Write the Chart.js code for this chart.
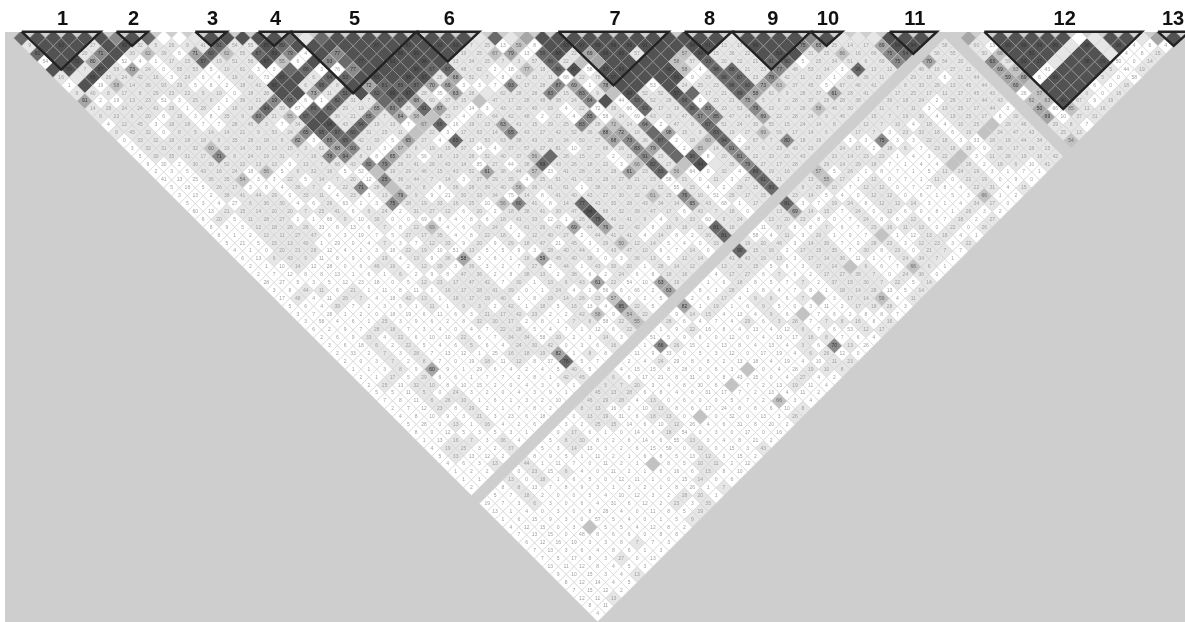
<!DOCTYPE html>
<html>
<head>
<meta charset="utf-8">
<title>LD plot</title>
<script src="https://cdn.jsdelivr.net/npm/chart.js@4/dist/chart.umd.min.js"></script>
<style>
  html, body { margin: 0; padding: 0; background: #fff; }
  canvas { display: block; }
</style>
</head>
<body>
<canvas id="ldChart" width="1185" height="622"></canvas>
<script>
// haplotype blocks: first and last cell of the top row
const blockLabels = ['1','2','3','4','5','6','7','8','9','10','11','12','13'];
const blockFirst  = [0, 6, 11, 15, 17, 25, 34, 42, 45, 50, 55, 61, 72];
const blockLast   = [5, 8, 13, 17, 25, 29, 41, 45, 50, 52, 58, 71, 74];

// one string per row of the triangle, row 0 on top.
// token = value + LD class (none white, l light, g/m/n/d/k grey to dark), x = no data
const cellRows = [
"93d k 95k 97k k k 75n 97k 60d 0 1 21l 93k 91k 91k 93k 93k 80d 29l 77d k k k k k k 66k 93k 93k 18l 93d 14l 66m k k 97k 87k 99k 93k 93k 99k k k 85k k 18l k k k k 71n 93k 28l 41l 57l 83k k 93k x x 82m 51l 97k 93k k 93k k 36 l 93k 93k 5l 60m k",
"9l k 93k k 27l k 95k 32l 5l 26l 9l 41l 91d 54l 55l 85k 89d k k k k k 87k k 82k k 93k 93k 7l 25l 13 59g 8 k 63k 97k 99k 99k 99k 91k k k 98k 91k 13l 17l 89k k k 75n 65m 25l 14l 17l 69m 94k 94k x 58l x 60l 13 99k 99k 99k 99k l 98k l 99k 4 6 4",
"81d k k 20l 71n k 30l 62g 39l 6 71m 60d 62g 55l 87d 89k 79n 4 k 77n k k k 88k 90k k k 19l 25l 67g 79m 13 59d 88k 22l 69m 99k 99k 57l k k 57g 99k 15l 36l 22l k 54k k 31l 25l 66g 16l 66l 75n 54d x 56l 55l x 50l 66g k 50k k l k k l 4 8 15l",
"54 k 31k 80m k 52 4 1 17l 15l 57d 19l 51l 56l 87k 55g 6 k 93n d 77k k 93k k 98k k 13l 34l 15l 7l 3l 57l 66d 22l g m k k k k 58g 57l 93d 20l 22l 21l 91d 90d 5 25l 34l 51l 6l 69l 75n x 70m 54l 20l x 63n 59l 50k 17k l k 38k 29k 50 0 14l",
"k 89k 7l 87k 58l 73m 24l 0 55l 53l 5 10l 61l 3 0 d 60d 3 76 77n k k k 96k 67d 67d 48l 62l 2 18 77g 18l 66d 87k 58 97k 84k k k 96k 58g 4 98d 86d 21l 23l 77n 48l 53l 14l 3 96d 13l 12l x 46l 16l 27l 22l x 69m 63g k 43 k k k 5l 44 19l",
"16l l 89k 26l 24l 42l 16l 3 24l 6 4 19l 40l 73 87k k 6l 64d 53d k 87k k 96k 97k 28l 68m 52l 7l 8 62l 13l 11l 68 22l 76l 97k k k k 96k 9 29l 96d 87d 23l 78n 42l 11l 23l 1 60l 36l 11l x 29l 18l 6 21l 44l x 59m 69m 6 99k k k 5l 0 58",
"1 k 19 58g 14l 36l 93l 29l 5 8 2 18l 41l 95k k 6l 95d 8l k 72m 81d 89d 87d 70m 69m 3 3 7 93n 17l 28l 87n 69m 1 78m k k 53 k 24l 25l 23l 96d 90d 73m 63g 37l 45l 5 67l 46l 41l x 8l 33l 28l 13l 45l 44l x 60m g k k k 6 0 18l",
"9l 40l 8l 17l 8l 29l 23l 22l 5l 10l 0 18l 28l k k 73m 11l 51d k 62d 99k 97k 28l 35 63m 28l l 62l 28l 28l 83n 15l 83n 9l g 99k 52l 52l 97k d 17l 21l 89d 58m 62l 9l 28l 37l 61m 28l 41l x 17l 25l 17l 11l 17l 45l 43l x 26 57g k k 0l 0 16l",
"91m 2 19 13l 23l 51 3 25l 8l 1 36l 21l 19n 65d 6 1 82d 31l 7l d 97d 68m 60l 37l 15l g 47l 17l 28l 48l 38l 24l 64n k 44 93d 52l 28l 96d 0 23l 21l 75m 5l 8l 28l 37l 28l 28l 38l x 36l 18l 24l 2 26l 17l 44l 43l x 62g 63g 90k 67l 9 19l",
"14l 28l 24l 24l 41l 28l 1 28l 1 18l 18l 94d 39l 67 86d 81d 29l 19l 65m 83n 26l 91d 67m 37l 14 3 43l 20l 40l 19l 4 22l 72 38l 66 93d 17l 19l 96d 83n 23l 51l 79n 13l 20l 28l 58g 46l 30l x 11l 7l 11l 3 13l 25l 17l 44l 0 x 50m 66 85g 11l 16l",
"6l 23l 6l 20l 6 19l 3 8 35l 9l 60n 21l 55g 97d k 36l 21l 85n 7l 64m 58g g 23l 4 37l 64l 42l 48l 2 27l 4 85n 58 34l 69 43l 23l 47l 57n 85n 47l 24l 69m 22l 28l 24l 9l 46l x 15l 7l 19l 30l 4 19l 25l 17l 6 30l x 69m 10 37l 31l",
"4 12l 45l 3 18l 18l 7 7 28l 45l 3l 7 34l k 98k 43l 64d 19l 13l 7 67g 69d 16 19l 13l 63m 41l 15l 29l 25l 83n 28l 72g 14l 64n 2 47l 9l 67d 51l 24l 30l 55l 15l 24l 14l 8l x 12l 7l 10l 4 18l 4 10l 25l g 29l 46l x 29l 8l 7",
"9l 45l 32l 0 8l 5l 14l 14l 21l 9l 53l 24l 65n 95d 97d 60d 31l 25l 11l g 22l 3 17l 63l 14l 65n 43l 27l 42l 52l 36l 88m 72m 18l d 98m 15l 9l 83d 19l 27l 69g 56l 17l 14l 6l x 17l 7l 3 23l 33l 18l 6 19l g 24l 47l 43l x 25l 13l",
"0 33l 32l 18l 18l 18l 9l 35l 28l 18l 8l 82m 3 85n 65d 42l 33l 5 65m 27l 4 95d 13l 53l 63l 38l 43l 26l 34l 50l 27l 68m 73n 36l 87d 2 18l 60g 94d 2 67l 7l 80n 18l 16l x 3 3 75n 3 3 22l 18l 3 33 18l 18l 44l 34l x 54g",
"3 32l 31l 8l 32l 60g 33l 14l 33l 13l 15l 3l 61l 68m 93n 11l 3 97g 8l 19l 19l 37l 14 4 37l 57l 27l 81l 10 27l 68l 16l 83n 79m d 2 65g 14l 91n 28l 6l 23l 43l 23l x 24l 17l 2 18l 6l 7 23l 18l 18l 9 26l 17l 28l 15l x",
"5 30l 35l 31l 17l 71n 8l 24l 19l 31l 7l 16l 78n 94n 8l 8 65m 33l 56 16l 13l 28l 52l 40l 37l 56g d 28l 15l 27l 2 23l 91n 23l d 96d 8 20l 81n 22l 33l 20l 43l x 23l 14l 23l 23l 1 4 3 22l g 3 11l 28l 19l 16l 42l",
"9 30 2 30l 30l 52l 22l 13l 13l 0 13l 7l 68l 43l 82n 79n 28l 41l 28l 43l 14l 85 27l 44 38l 69d 43l 26l 18l 22l 3 66g 82d 27l g 44k l 35l 79n 27l 17l 28l x 29l 14l 29l 18l 7 1 4 4 g 28l 2 18l 6l 10 41l",
"2 3 5 43l 16l 24l 18 56g 5 6l 32l 16l 5 52 g 19l 29l 46l 15l 43l 52l 61m 38l 44l 57g 23 41l 28l 26l 28l 61m 23l 83d 56g 64 0 32l 4 89d 19l 16l x 57g 5 26l 1 8 7 1 5 11l 24l 19l 3 1 7 1",
"41 13 25 36l 35l 54g 3 3 22l 5 14l 7l 20l 12 25n 36l 44l 7l 14l 3 37l 29l 35l 4 25l 51l 41l 23l 28l 27l 21l 23l 58 21l 0 11l 3 27l 61d 21l x 13l 55g 17l 1 12l 0 7 1 11l 0 21l 19l 0 9 0",
"5 18 5 26l 17l 3 8 4 36l 7l 2 22l 71n 28l g 28l 8l 8 38l 28l 39l 40l 56g 36l 41l 61l 1 38l 30l 20l 21l 52l 55 15l 4 2 28l 15l 83d x 8l 29l 10l 7 12l 12l 0 7 27 8 4 22l 31l 4 15l",
"3 13 2 38l 41l 44l 29l 0 33l 11l 4 23l 3 13l 79m 9l 9 21 30l 33l 34l 75 14l 8 41l 40l 43l 27l 30l 32l 61g 25l 76n 10l 51 26l 17l 15l x 23l 14l 5 4 0 12l 12l 0 6 1 5 3 66g 1 2",
"5 3 4 27 6l 36l 30l 4 6 26l 63 1 3 75n 28l 19l 33l 16l 25l 10 56g 60n 41l 8 14l 77d 43l 30l 28l 43l 34l 14l 65m 43l 68 1 17l x 81d 3 7 19l 24l 8 12l 12l 14l 3 1 4 34l 17l 0",
"60 13 21l 15l 14l 20l 20l 7l 25l 41l 6 6l 24l 2 31l 27l 12l 6 20l 2 18l 38l 41l 30l 47l 94k 68l 32l 39l 47l 17l 6 43l 7l 18l 0 x 13l 69m 14l 15l 7 24l 0 12l 6 0 8 1 26l 3 2",
"6 20l 5 11l 28l 27l 1 1 66 9l 10 36l 0 0 69 8 4 8 6 18l 41l 33l 12 1 26l 75d 40l 41l 9l 4 9l 33l 60 9l 24l x 13l 20l 23l 8 0 7 24l 8 6 12l 6 7 18l 2 27l",
"8 9 5 12l 18l 26l 26l 33 8 13 6 7l 8 12l 69g 4 6 7l 24l 2 41l 26l 47l 69m 44l 76m 22l 42l 8 16l 16l 12l 81d 18l x 11 37l 8 8 7l 6 7 23l 16l 11l 13l 0 22l 0 26l",
"8 1 2 12l 11l 27l 47l 6 3 19 7 5 27l 17l 35l 4 8 22l 18l 2 12l 40l 27l 2 44l 41l 41l 4 14l 8 2 30l 81d x 58 4 11l 3 20l 1 0 7 g 1 12 13l 18l 4 1",
"5 21 5 15l 13l 40l 1 29 0 4 7l 3 7 12l 33l 9 20l 9 29l 18l 47l 21 45l 3 29l 50g 12l 14l 5 4 0 33l x 19l 20l 46l 3 14l 30l 7 0 28l 23l 3 12l 23l 3 22l",
"4 1 0 20l 21l 28l 12 4 1 3 18 22l 19l 10 51 13l 5 5 9 3 28l 40l 44l 3 43l 47l 10l 6 7 14l 0 x 90d 15l 16l 2 17l 15l 35l 7 30l 8 23l 0 21l 7l 7",
"6 13 6l 43l 9l 11 8 9 0 19l 4 13l 9 36l 58m 3 6 1 18l 59m 45l 40l 38l 0 3 36l 13l 5 12l 14l x 41l 43l 19l 13l 3 17l 14l 36l 11 1 7 24l 34l 7l 1",
"2 1 10 14l 12 28 0 6 46l 16l 2 12l 39l 3 36l 3 2 7 27l 2 44l 1 43l 30l 20l 1 28l 14l 12l x 13l 32l 15l 5 6 3 17l 14l g 6l 6 7 66g 6l 1",
"2 7 12 8 8 13 1 6 1 6l 2 9 8 47l 36l 2 8 38l 13l 2 38l 6 2 24l 6 8 18l 16l x 4 17l 27l 6 7l 6 2 17l 27l 38l 7l 0 24l 36l 0",
"28 27 5 3 5 12 23 18 0 5 12l 23l 17l 47l 42l 7 30l 1 13l 6l 43l 61m 22l 54 10 63m 19l x 1 6 18l 8 5 7 7l 2 37l 15l 30l 7l 22l 5 14l",
"3 8 44l 11l 6 21l 1 11 8 11 1 16l 17l 28l 41l 39l 0 1 24l 4 1 56 6 66 2 63m x 8 1 28l 1 8 4 7 8 1 18l 14l 28l 13 5 14l",
"17 48l 4 11 26l 7l 4 18 42l 13l 1 18l 17l 19l 40l 1 8 19l 14l 26l 23l 57g 0 2 5 x 2 6 17l 4 9l 6l 6 7l g 3 17l 14l 59g 4 11l",
"5 6 4 39l 7 2 3 5 1 11l 1 9l 3l 2 42l 1 18l 5 16l 13 4 85n 22l 5 x 82m 1 19l 1 6 9l 5 0 3 11 2 17l 18l 28l 3",
"3 7 28 1 2 0 18 19 6 11 6 3 21l 17l 42l 23l 2 2 42l 58g 9 54g 22l x 9 14l 15l 4 13 4 9l 6 g 7 6 2 8 8 7",
"3 58 4 6 1 25l 3 9 6 2 8 32l 30l 17l 2 8 1 7l 8l 58 22l 55g x 28l 6 4 7 4 29l 6 3l 28l 7 7l 8l 16l 8 16l",
"6 2 9 7 28l 18l 7 3 4 0 4 7 22l 28l 5 4 7 1 12 6 22l x 1 9 22l 16 8 4 13 4 12 6l 7 6 53 12l 17l",
"2 6 9 33l 4 22l 6 10 10 22l 6 7 34l 34l 58 10l 2 3 14l 3 x 51 5 9 6 0 12 0 4 19 17 16l 8l 7 6 4",
"3 6 18 6l 2 22l 5 4 6 5l 6 4 24l 30l 42l 0 3 6 16l x 1 66n 26l 15 2 13 8 4 13 4 3l 6 70n 13l 26",
"2 33 2 7l 3 28l 7 13 12 1 25 16l 18l 19l 82m 1 8l 8 x 11 9 33 0 5 3 12 0 17 19 4 6l 26l 12 0",
"2 0 3 7l 2 8l 7 0 19 18l 11 12l 8 37 76d 5 7 x 2 4 24l 29 8 8 2 13 18 4 19 4 10 11l 23l",
"1 1 3 8l 9 60m 9 1 29 6 4 2 4 5 40l 5 x 4 15 15 8 28 0 6 3 g 0 4 28 19l 10l 8l",
"2 1 17l 5 29l 6 6 1 7 7 2 8 1 42l 45l x 6l 6 17 21 8 31 0 8 43 15 0 4 27l 4 2",
"2 25l 13 32l 10l 8 10 15 2 0 4 3 9 1 x 5l 7l 20l 3 4 8 30 6 g 7 2 13 19l 11 4",
"5 5 11 5l 0 24l 3 2 0 4 3 9 1 x 45l 13l 28l 6 8 4 6 31 17 7 2 13 4 11 2",
"7 8 11 6l 26l 10l 1 6 1 3 2 10 x 46l 29l 28l 4 13l 0 6 0 0 5 7 2 66g 3 4",
"2 7 12 23l 8 29l 2 1 7 8 2 x 8l 13l 16 2 10 13l 8 6 17 24 8 8 6 10 8l",
"4 8 10 9 3 21l 3 23 6 18 x 0 13l 19l 31 6 18l 13l 0 g 0 32 0 13 3 26l",
"5 28 0 13l 1 16l 4 2 6 x 3 2 25l 15l 14 6 10 12l 26 4 6 31 8 20 2",
"8 0 12 5 3 5 3 1 x 0 17l 6 1 0 14 6 18l 54 0 3 0 17 0 16",
"1 13 16l 7l 3 36l 4 x 5 8l 30l 8 2 6 14 6 55 13l 0 4 8 21 2",
"4 19l 25l 3 2 37l x 5 3 14l 13 3 2 6 15 59 0 12l 0 15 3 43l",
"5 33l 13 12 2 x 8 9 5 1 11 2 1 6 8 5 13 12l 3 15 2",
"4 6 3 13l x 44l 1 11 7 0 11 2 1 g 8 5 10l 11l 2 12",
"1 2 2 x 0 23l 15 6l 4 0 11 2 1 6 16 6 15l 8 10",
"1 1 x 13l 0 18l 1 6 5 0 12 11 1 0 15 14l 0 6",
"2 x 8 8l 13 7 8 9 3 1 3 2 1 8 26 1 7l",
"x 5 7 18l 2 0 0 5 4 10 12 3 2 28l 20l 1",
"19 7 3 6l 3 0 6 4 31 6 12 2 23l 3 35l",
"13 1 4 0 3 0 8 28 4 0 11 8 5 19l",
"1 6 15 9 3 0 57 5 4 0 1 5 9l",
"4 12 15 0 3 g 5 5 4 12 8 2",
"7 13 15 0 48 8 6 6 0 8 8",
"6 12 16 19 3 3 8 7l 7 3",
"7 13 3 6 4 8 6 1 3",
"7 5 17 8 3 27l 0 13",
"13 11 12 8 4 5 3",
"9 10 15 3 4 13l",
"8 12 14 4 5",
"7 15 12 2",
"12 11 13l",
"8 11",
"4"
];

const toneOrder  = ['w', 'l', 'g', 'm', 'n', 'd', 'k'];
const toneColors = { w: '#ffffff', l: '#e6e6e6', g: '#c2c2c2', m: '#a6a6a6', n: '#8a8a8a', d: '#6a6a6a', k: '#525252' };

// ── Helpers ──────────────────────────────────────────────────────────────

function buildCells() {
    const byTone = {};
    toneOrder.forEach(t => { byTone[t] = []; });
    cellRows.forEach((row, r) => {
        row.split(' ').forEach((tok, i) => {
            if (tok === 'x') return;
            const m = tok.match(/^(\d*)([a-z]?)$/);
            byTone[m[2] || 'w'].push({ x: i + r / 2, y: r, label: m[1] });
        });
    });
    return byTone;
}

function blockOutline(first, last) {
    const top = -0.8;
    return [
        { x: first, y: top },
        { x: last, y: top },
        { x: (first + last) / 2, y: last - first - 1 },
        { x: first, y: top }
    ];
}

// ── Plugins ──────────────────────────────────────────────────────────────

const backdrop = {
    id: 'backdrop',
    beforeDraw(chart) {
        const { ctx, chartArea: a } = chart;
        ctx.save();
        ctx.fillStyle = '#ffffff';
        ctx.fillRect(0, 0, chart.width, chart.height);
        ctx.fillStyle = '#cecece';
        ctx.fillRect(a.left, a.top, a.right - a.left, a.bottom - a.top);
        ctx.restore();
    }
};

const cellText = {
    id: 'cellText',
    afterDraw(chart) {
        const { ctx, scales } = chart;
        ctx.save();
        ctx.textAlign = 'center';
        ctx.textBaseline = 'middle';
        ctx.font = '5px "Liberation Sans", Arial, sans-serif';
        chart.data.datasets.forEach(ds => {
            if (!ds.tone) return;
            ctx.fillStyle = (ds.tone === 'w' || ds.tone === 'l') ? '#a0a0a0' : (ds.tone === 'g' ? '#6a6a6a' : '#333333');
            ds.data.forEach(p => {
                if (!p.label || p.y < 0.5) return;
                ctx.fillText(p.label, scales.x.getPixelForValue(p.x), scales.y.getPixelForValue(p.y));
            });
        });
        // block numbers above the triangle
        ctx.fillStyle = '#111';
        ctx.font = 'bold 20px "Liberation Sans", Arial, sans-serif';
        blockLabels.forEach((lab, b) => {
            const mid = (blockFirst[b] + blockLast[b]) / 2;
            const px = Math.min(scales.x.getPixelForValue(mid) + 1.5, 1173);
            ctx.fillText(lab, px, scales.y.getPixelForValue(-2.3));
        });
        ctx.restore();
    }
};

// ── Chart ────────────────────────────────────────────────────────────────

const cells = buildCells();
const datasets = toneOrder.map(t => ({
    tone: t,
    data: cells[t],
    order: 1,
    pointStyle: 'rectRot',
    pointRadius: 7.89,
    pointHoverRadius: 7.89,
    pointBackgroundColor: toneColors[t],
    pointBorderColor: t === 'k' || t === 'd' ? '#a0a0a0' : '#d2d2d2',
    pointBorderWidth: 0.6,
    showLine: false,
    clip: 0
}));

blockLabels.forEach((lab, b) => {
    datasets.push({
        data: blockOutline(blockFirst[b], blockLast[b]),
        order: 0,
        showLine: true,
        pointRadius: 0,
        borderColor: '#222222',
        borderWidth: 2.4,
        borderJoinStyle: 'miter',
        tension: 0,
        clip: false
    });
});

new Chart(document.getElementById('ldChart'), {
    type: 'scatter',
    data: { datasets },
    plugins: [backdrop, cellText],
    options: {
        responsive: false,
        animation: false,
        events: [],
        layout: { autoPadding: false, padding: { left: 5, top: 32, right: 0, bottom: 0 } },
        plugins: { legend: { display: false }, tooltip: { enabled: false } },
        scales: {
            x: { type: 'linear', display: false, min: -1.058, max: 73.72 },
            y: { type: 'linear', display: false, reverse: true, min: -0.76, max: 74.02 }
        }
    }
});
</script>
</body>
</html>
